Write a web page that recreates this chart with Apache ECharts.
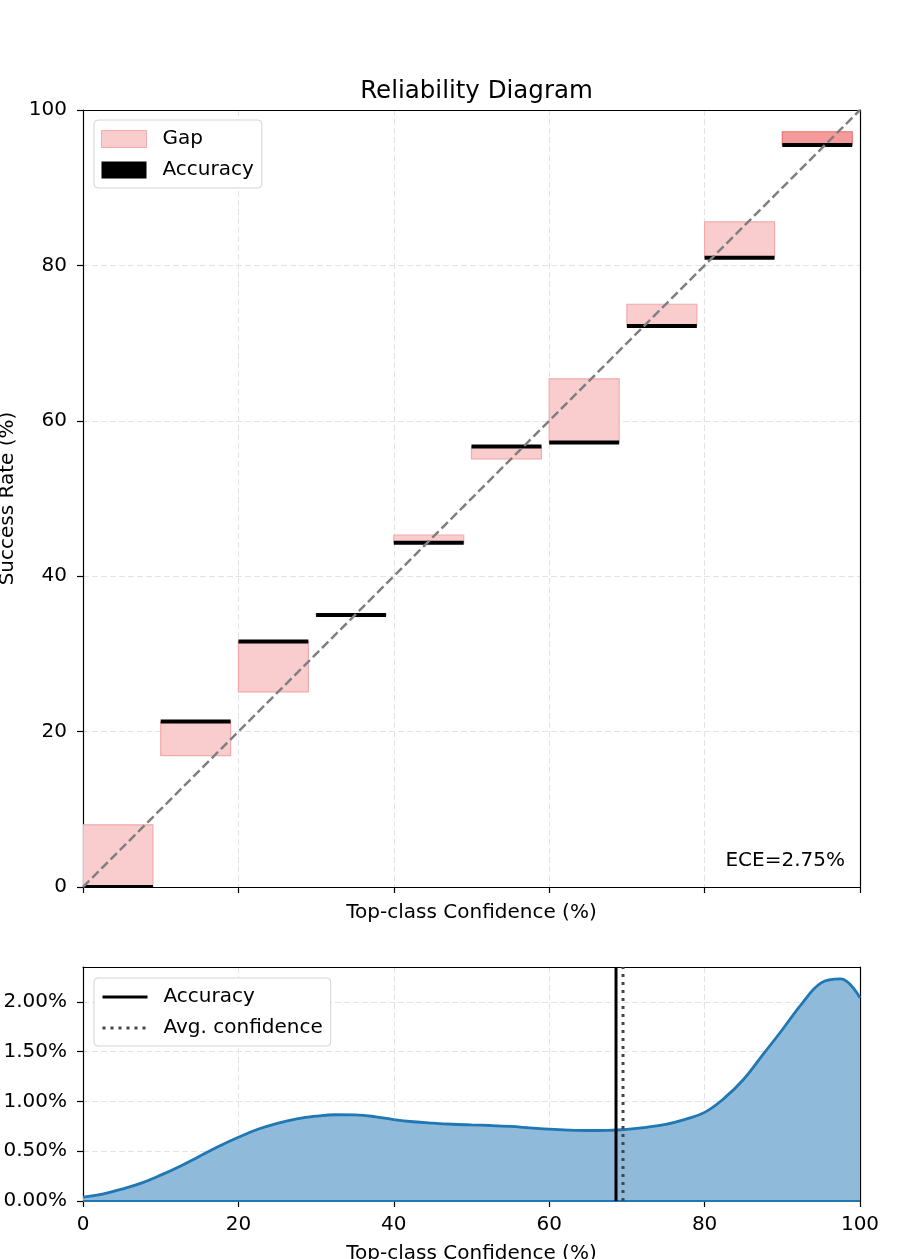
<!DOCTYPE html>
<html>
<head>
<meta charset="utf-8">
<script src="https://cdn.jsdelivr.net/npm/echarts@6/dist/echarts.min.js"></script>
<style>html,body{margin:0;padding:0;background:#fff}#c{width:900px;height:1259px}</style>
</head>
<body>
<div id="c"></div>
<script>
// ---- data ----
const binLeft = [0, 10, 20, 30, 40, 50, 60, 70, 80, 90];
const binWidth = 9;
const accuracy = [0.0, 21.3, 31.6, 35.0, 44.3, 56.7, 57.2, 72.2, 81.0, 95.5];
const confidence = [8.0, 16.9, 25.1, 35.1, 45.3, 55.1, 65.4, 75.0, 85.6, 97.2];
const eceText = 'ECE=2.75%';
const densityX = [0, 2.5, 5, 7.5, 10, 12.5, 15, 17.5, 20, 22.5, 25, 27.5, 30, 32.5, 35, 37.5, 40, 42.5, 45, 47.5, 50, 52.5, 55, 57.5, 60, 62.5, 65, 67.5, 70, 72.5, 75, 77.5, 80, 82.5, 85, 87.5, 90, 92.5, 95, 97.5, 100];
const densityY = [0.04, 0.07, 0.12, 0.18, 0.26, 0.35, 0.45, 0.55, 0.64, 0.72, 0.78, 0.825, 0.852, 0.866, 0.864, 0.848, 0.818, 0.796, 0.782, 0.771, 0.764, 0.758, 0.749, 0.735, 0.721, 0.712, 0.708, 0.71, 0.72, 0.74, 0.77, 0.82, 0.89, 1.03, 1.22, 1.47, 1.72, 1.98, 2.19, 2.23, 2.04];
const overallAccuracy = 68.6;
const avgConfidence = 69.5;
const densityMax = 2.35;

// ---- styles ----
const FONT = 'DejaVu Sans';
const FS = 20;
const gapFill = '#f9cdcd', gapEdge = '#f4aaaa';
const gapFillDark = '#f59b9b', gapEdgeDark = '#ec7272';
const gridLine = {show: true, showMinLine: false, showMaxLine: false, lineStyle: {color: '#e3e3e3', type: [6, 3], width: 1}};
const axisLine = {show: true, onZero: false, lineStyle: {color: '#000', width: 1.2}};
const tick = {show: true, length: 6, lineStyle: {color: '#000', width: 1.2}};
const lbl = {color: '#000', fontFamily: FONT, fontSize: FS};
const nameStyle = {fontFamily: FONT, fontSize: FS, color: '#000'};
const frameX = (g) => ({gridIndex: g, type: 'value', position: 'top', min: 0, max: 100, axisLine, axisTick: {show: false}, axisLabel: {show: false}, splitLine: {show: false}});
const frameY = (g, mx) => ({gridIndex: g, type: 'value', position: 'right', min: 0, max: mx, axisLine, axisTick: {show: false}, axisLabel: {show: false}, splitLine: {show: false}});
const legendBase = {orient: 'vertical', left: 94, padding: [9, 8, 8, 7], itemGap: 11,
  itemWidth: 45, itemHeight: 17, backgroundColor: '#fff', borderColor: '#d3d3d3', borderWidth: 1, borderRadius: 4,
  textStyle: {fontFamily: FONT, fontSize: FS, color: '#000', padding: [0, 0, 0, 11]}};

const chart = echarts.init(document.getElementById('c'));
const gapData = binLeft.map((l, i) => [l, l + binWidth, accuracy[i], confidence[i]]);
const accData = binLeft.map((l, i) => [l, l + binWidth, accuracy[i]]);

chart.setOption({
  animation: false,
  backgroundColor: '#fff',
  title: {text: 'Reliability Diagram', left: 471.5, textAlign: 'center', top: 74,
    textStyle: {fontFamily: FONT, fontSize: 24.5, fontWeight: 'normal', color: '#000'}},
  grid: [
    {left: 83, right: 40, top: 110, height: 777, containLabel: false, outerBoundsMode: 'none'},
    {left: 83, right: 40, top: 967, height: 234, containLabel: false, outerBoundsMode: 'none'}
  ],
  legend: [
    Object.assign({}, legendBase, {top: 120,
      data: [
        {name: 'Gap', icon: 'rect', itemStyle: {color: gapFill, borderColor: gapEdge, borderWidth: 1}},
        {name: 'Accuracy', icon: 'rect', itemStyle: {color: '#000'}}
      ]}),
    Object.assign({}, legendBase, {top: 978, itemStyle: {opacity: 0},
      data: [
        {name: 'Accuracy ', lineStyle: {color: '#000', width: 3, type: 'solid'}},
        {name: 'Avg. confidence', lineStyle: {color: '#444', width: 3, type: [3, 5]}}
      ]})
  ],
  xAxis: [
    {gridIndex: 0, type: 'value', min: 0, max: 100, interval: 20, axisLine, axisTick: tick,
      axisLabel: {show: false}, splitLine: gridLine,
      name: 'Top-class Confidence (%)', nameLocation: 'middle', nameGap: 16, nameTextStyle: nameStyle},
    {gridIndex: 1, type: 'value', min: 0, max: 100, interval: 20, axisLine, axisTick: tick,
      axisLabel: Object.assign({margin: 14}, lbl), splitLine: gridLine,
      name: 'Top-class Confidence (%)', nameLocation: 'middle', nameGap: 43, nameTextStyle: nameStyle},
    frameX(0), frameX(1)
  ],
  yAxis: [
    {gridIndex: 0, type: 'value', min: 0, max: 100, interval: 20, axisLine, axisTick: tick,
      axisLabel: Object.assign({margin: 16}, lbl), splitLine: gridLine,
      name: 'Success Rate (%)', nameLocation: 'middle', nameGap: 46, nameTextStyle: nameStyle},
    {gridIndex: 1, type: 'value', min: 0, max: densityMax, interval: 0.5, axisLine, axisTick: tick,
      axisLabel: Object.assign({margin: 16, showMaxLabel: false, formatter: v => v.toFixed(2) + '%'}, lbl),
      splitLine: gridLine},
    frameY(0, 100), frameY(1, densityMax)
  ],
  graphic: [
    {type: 'text', right: 55, top: 851, style: {text: eceText, font: FS + 'px "DejaVu Sans"', fill: '#000'}}
  ],
  series: [
    {name: 'Gap', type: 'custom', xAxisIndex: 0, yAxisIndex: 0, clip: true,
      itemStyle: {color: gapFill, borderColor: gapEdge},
      encode: {x: [0, 1], y: [2, 3]},
      renderItem: function (params, api) {
        const lo = Math.min(api.value(2), api.value(3)), hi = Math.max(api.value(2), api.value(3));
        const p0 = api.coord([api.value(0), hi]);
        const p1 = api.coord([api.value(1), lo]);
        const last = params.dataIndex === binLeft.length - 1;
        return {type: 'rect', shape: {x: p0[0], y: p0[1], width: p1[0] - p0[0], height: p1[1] - p0[1]},
          style: {fill: last ? gapFillDark : gapFill, stroke: last ? gapEdgeDark : gapEdge, lineWidth: 1.2}};
      },
      data: gapData, z: 2},
    {name: 'Accuracy', type: 'custom', xAxisIndex: 0, yAxisIndex: 0, clip: true,
      itemStyle: {color: '#000'},
      encode: {x: [0, 1], y: 2},
      renderItem: function (params, api) {
        const p0 = api.coord([api.value(0), api.value(2)]);
        const p1 = api.coord([api.value(1), api.value(2)]);
        const cs = params.coordSys;
        const y0 = p0[1] - 2;
        const y1 = Math.min(p0[1] + 2, cs.y + cs.height);
        return {type: 'rect', shape: {x: p0[0], y: y0, width: p1[0] - p0[0], height: y1 - y0}, style: {fill: '#000'}};
      },
      data: accData, z: 3},
    {name: 'diag', type: 'line', xAxisIndex: 0, yAxisIndex: 0, symbol: 'none', silent: true,
      lineStyle: {color: '#808080', width: 2.5, type: [9, 4]}, data: [[0, 0], [100, 100]], z: 4},
    {name: 'density', type: 'line', xAxisIndex: 1, yAxisIndex: 1, symbol: 'none', smooth: 0.4,
      lineStyle: {color: '#1f77b4', width: 2.8}, areaStyle: {color: '#8fbad9', opacity: 1},
      data: densityX.map((x, i) => [x, densityY[i]]), z: 2},
    {name: 'base', type: 'line', xAxisIndex: 1, yAxisIndex: 1, symbol: 'none',
      lineStyle: {color: '#1f77b4', width: 2}, data: [[0, 0], [100, 0]], z: 2},
    {name: 'Accuracy ', type: 'line', xAxisIndex: 1, yAxisIndex: 1, symbol: 'none', color: '#000',
      lineStyle: {color: '#000', width: 3}, data: [[overallAccuracy, 0], [overallAccuracy, densityMax]], z: 5},
    {name: 'Avg. confidence', type: 'line', xAxisIndex: 1, yAxisIndex: 1, symbol: 'none', color: '#444',
      lineStyle: {color: '#444', width: 3, type: [3, 5]}, data: [[avgConfidence, 0], [avgConfidence, densityMax]], z: 5}
  ]
});
</script>
</body>
</html>
